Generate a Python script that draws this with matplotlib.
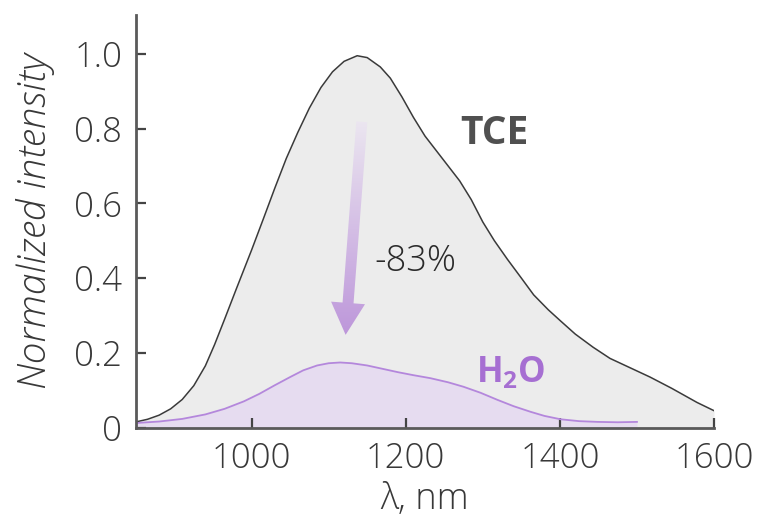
import matplotlib
matplotlib.use("Agg")
import matplotlib.pyplot as plt
from matplotlib.patches import Polygon
import numpy as np

# TCE spectrum
tce_wl = [850, 865, 880, 895, 910, 925, 940, 952, 965, 980, 1000, 1015, 1030,
          1045, 1060, 1075, 1090, 1105, 1120, 1137, 1150, 1167, 1180, 1195,
          1210, 1225, 1240, 1255, 1270, 1285, 1300, 1315, 1332, 1350, 1366,
          1385, 1401, 1420, 1443, 1465, 1491, 1517, 1545, 1578, 1600]
tce_int = [0.015, 0.022, 0.033, 0.05, 0.075, 0.112, 0.165, 0.222, 0.29, 0.37,
           0.475, 0.557, 0.64, 0.72, 0.79, 0.855, 0.91, 0.952, 0.98, 0.995,
           0.99, 0.965, 0.935, 0.885, 0.83, 0.78, 0.74, 0.70, 0.66, 0.61,
           0.55, 0.50, 0.45, 0.40, 0.355, 0.315, 0.285, 0.25, 0.215, 0.185,
           0.16, 0.135, 0.105, 0.067, 0.045]

# H2O spectrum
h2o_wl = [850, 880, 910, 940, 965, 990, 1010, 1030, 1050, 1067, 1085, 1100,
          1115, 1130, 1150, 1170, 1190, 1210, 1232, 1255, 1275, 1297, 1319,
          1340, 1362, 1380, 1401, 1425, 1449, 1475, 1500]
h2o_int = [0.012, 0.016, 0.023, 0.035, 0.05, 0.07, 0.09, 0.113, 0.135, 0.153,
           0.166, 0.172, 0.174, 0.172, 0.166, 0.157, 0.148, 0.140, 0.132,
           0.121, 0.109, 0.093, 0.074, 0.057, 0.042, 0.031, 0.022, 0.017,
           0.015, 0.014, 0.015]

xticks = [1000, 1200, 1400, 1600]
yticks = [0, 0.2, 0.4, 0.6, 0.8, 1.0]
ytick_labels = ['0', '0.2', '0.4', '0.6', '0.8', '1.0']

plt.rcParams['font.family'] = ['Open Sans', 'DejaVu Sans']

fig = plt.figure(figsize=(7.57, 5.26), dpi=100)
ax = fig.add_axes([136/757, 1 - 427.5/526, (714 - 136)/757, (427.5 - 15)/526])

ax.fill_between(tce_wl, tce_int, color='#ececec', lw=0)
ax.plot(tce_wl, tce_int, color='#3a3a3a', lw=1.1)
ax.fill_between(h2o_wl, h2o_int, color='#e6dcf0', lw=0)
ax.plot(h2o_wl, h2o_int, color='#b487dc', lw=1.3)

ax.set_xlim(850, 1600)
ax.set_ylim(0, 1.104)
ax.set_xticks(xticks)
ax.set_yticks(yticks)
ax.set_yticklabels(ytick_labels)

for s in ['top', 'right']:
    ax.spines[s].set_visible(False)
for s in ['left', 'bottom']:
    ax.spines[s].set_color('#5a5a5a')
    ax.spines[s].set_linewidth(2)
ax.tick_params(direction='in', length=7, width=1.6, color='#444444',
               labelsize=25, labelcolor='#383838', pad=10)
for lab in ax.get_xticklabels() + ax.get_yticklabels():
    lab.set_fontweight('light')

ax.set_xlabel('λ, nm', fontsize=26, color='#383838',
              fontweight='light', labelpad=4)
ax.set_ylabel('Normalized intensity', fontsize=28, color='#383838',
              style='italic', fontweight='light', labelpad=14)

ax.text(1315, 0.786, 'TCE', fontsize=28, fontweight='bold', color='#505050',
        ha='center', va='center')
ax.text(1336, 0.145, r'H$_\mathregular{2}$O', fontsize=25, fontweight='bold',
        color='#a66fd2', ha='center', va='center')
ax.text(1212, 0.443, '-83%', fontsize=26, fontweight='light', color='#2a2a2a',
        ha='center', va='center')

# gradient arrow, built in pixel space
tail = ax.transData.transform((1143, 0.818))
tip = ax.transData.transform((1122, 0.248))
d = tip - tail
L = np.hypot(*d)
u = d / L
n = np.array([-u[1], u[0]])
sw, hw, hl = 5.5, 17, 32
base = tip - u * hl
pts = [tail + n * sw, base + n * sw, base + n * hw, tip,
       base - n * hw, base - n * sw, tail - n * sw]
arrow = Polygon(pts, closed=True, transform=None, facecolor='none',
                edgecolor='none')
ax.add_patch(arrow)
grad = np.linspace(0, 1, 256).reshape(-1, 1)
cmap = matplotlib.colors.LinearSegmentedColormap.from_list(
    'arr', ['#bb93d9', '#ede9f1'])
img = ax.imshow(grad, cmap=cmap, aspect='auto', extent=(1090, 1170, 0.22, 0.84),
                origin='lower', zorder=3)
img.set_clip_path(arrow)
ax.set_xlim(850, 1600)
ax.set_ylim(0, 1.104)

fig.savefig('out.png', dpi=100)
